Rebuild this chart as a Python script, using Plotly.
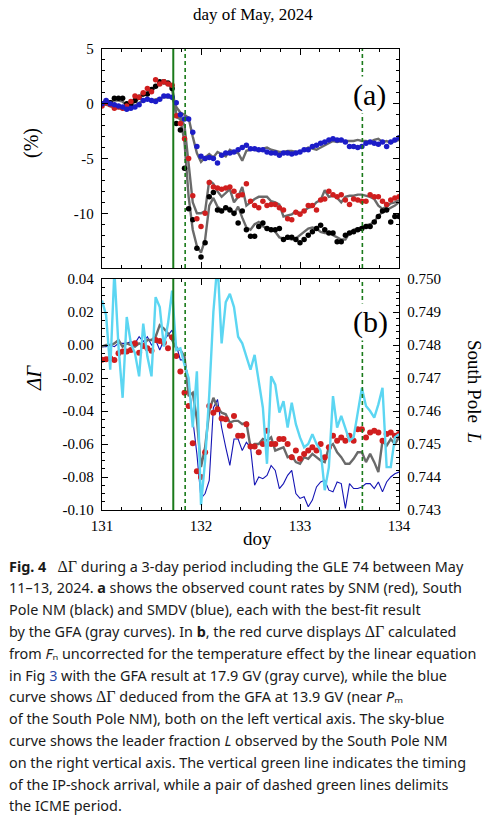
import plotly.graph_objects as go

# ---------------- data ----------------
hours = list(range(73))                       # hourly samples, 11 May 00 UT .. 14 May 00 UT
doy = [131 + h / 24 for h in hours]

# (a) count-rate variations (%)
snm = [-0.2, 0.1, -0.1, -0.4, -0.3, -0.4, -0.2, 0.2, 0.7, 0.6, 1.0, 1.4, 1.1, 2.2, 1.8, 2.0, 1.8, 1.7,
       -1.1, -1.8, -3.2, -5.0, -8.4, -10.5, -11.2, -10.0, -7.2, -7.6, -7.7, -7.8, -7.7, -7.6, -8.0, -8.4,
       -8.3, -7.3, -8.9, -9.3, -9.5, -8.9, -9.3, -9.2, -9.2, -9.5, -9.7, -10.5, -10.6, -9.9, -10.1, -9.8,
       -9.3, -9.3, -9.7, -8.8, -8.7, -8.0, -8.3, -8.5, -8.3, -8.8, -9.2, -8.7, -8.8, -8.9, -8.9, -8.3,
       -8.5, -8.5, -8.9, -9.2, -8.8, -8.6, -8.5]
south_pole = [0.0, 0.2, 0.1, 0.5, 0.5, 0.5, 0.0, -0.1, 0.3, 0.6, 0.9, 0.9, 1.3, 1.6, 2.0, 2.0, 1.9, 1.4,
              -1.8, -2.4, -5.9, -9.6, -10.6, -13.2, -14.0, -12.7, -8.5, -8.1, -9.7, -9.8, -9.5, -9.7, -10.0,
              -10.9, -9.8, -11.5, -12.1, -12.1, -11.2, -10.9, -11.4, -11.5, -11.5, -11.4, -12.4, -12.2, -12.2,
              -12.4, -12.7, -12.4, -12.0, -11.7, -11.4, -11.1, -11.5, -11.8, -11.8, -12.6, -12.6, -12.0, -11.8,
              -11.7, -11.5, -11.4, -11.2, -11.2, -10.8, -10.3, -9.8, -9.7, -10.8, -10.3, -10.3]
smdv = [0.0, 0.3, 0.0, -0.1, -0.2, -0.3, -0.5, -0.4, -0.3, -0.1, 0.3, 0.4, 0.3, 0.2, 0.4, 0.7, 0.7, 0.6,
        0.1, -1.0, -1.4, -1.4, -2.6, -3.9, -4.8, -5.0, -4.9, -5.0, -5.4, -4.7, -4.5, -4.5, -4.4, -4.2, -4.0,
        -3.8, -4.1, -4.1, -4.2, -4.2, -4.4, -4.5, -4.5, -4.7, -4.5, -4.5, -4.6, -4.5, -4.4, -4.2, -4.2, -3.9,
        -3.8, -3.6, -3.5, -3.3, -3.2, -3.3, -3.3, -3.5, -3.9, -3.9, -4.0, -3.9, -3.6, -3.5, -3.6, -3.7, -3.5,
        -3.9, -3.5, -3.3, -3.1]
# GFA best fits (gray curves)
fit_snm = [0.0, -0.1, -0.2, -0.4, -0.4, -0.5, -0.3, 0.1, 0.4, 0.6, 0.8, 1.0, 1.3, 1.6, 1.9, 2.0, 1.8, 1.5,
           -0.9, -1.2, -2.0, -5.5, -9.0, -10.0, -10.0, -9.8, -7.0, -7.3, -8.0, -8.5, -8.1, -7.8, -9.0, -8.5,
           -7.6, -9.3, -9.0, -8.7, -8.5, -8.5, -8.5, -8.9, -9.0, -9.2, -10.3, -10.2, -10.1, -9.8, -10.0, -9.8,
           -9.5, -9.4, -9.0, -8.8, -7.9, -8.5, -8.4, -8.6, -9.0, -8.5, -8.4, -8.4, -8.3, -8.3, -8.4, -8.5,
           -8.7, -9.3, -9.6, -9.4, -9.1, -9.0, -8.8]
fit_sp = [0.0, 0.1, 0.2, 0.3, 0.3, 0.2, -0.2, -0.1, 0.2, 0.5, 0.8, 0.9, 1.2, 1.5, 1.9, 1.9, 1.8, 1.4,
          -1.2, -1.4, -3.5, -8.5, -11.5, -13.0, -13.6, -12.4, -9.3, -8.6, -9.4, -9.7, -9.6, -9.5, -10.1, -9.4,
          -10.4, -11.3, -11.5, -11.0, -10.8, -11.2, -11.4, -11.4, -11.7, -12.2, -12.3, -12.3, -12.4, -12.3,
          -12.0, -11.7, -11.4, -11.3, -11.4, -11.7, -11.8, -11.8, -12.0, -12.2, -12.4, -12.4, -11.8, -11.5,
          -11.4, -11.3, -11.1, -11.0, -10.8, -10.2, -9.9, -9.7, -9.5, -9.3, -9.0]
fit_smdv = [0.0, 0.1, 0.0, -0.2, -0.3, -0.5, -0.6, -0.4, -0.2, 0.1, 0.3, 0.4, 0.3, 0.4, 0.5, 0.6, 0.6, 0.5,
            -0.3, -0.8, -1.0, -1.3, -3.0, -4.5, -5.3, -4.9, -4.6, -4.9, -4.4, -4.6, -4.8, -4.2, -4.4, -4.5,
            -5.2, -4.3, -4.2, -4.2, -4.3, -4.1, -4.0, -4.2, -4.3, -4.4, -4.4, -4.3, -4.3, -4.4, -4.4, -4.2,
            -4.0, -4.1, -4.2, -4.0, -3.8, -3.6, -3.4, -3.5, -3.4, -3.4, -3.4, -3.4, -3.3, -3.4, -3.4, -3.5,
            -3.3, -3.2, -3.5, -3.4, -3.6, -3.4, -3.3]

# (b) Delta Gamma (left axis) and leader fraction L (right axis)
dg_snm = [-0.009, -0.0087, -0.0081, -0.0091, -0.005, -0.004, -0.004, -0.003, 0.001, -0.0047, -0.0006, -0.002,
          -0.0035, 0.003, 0.0024, 0.0014, -0.002, 0.0047, -0.0067, -0.016, -0.029, -0.037, -0.0595, -0.0765,
          -0.080, -0.065, -0.037, -0.041, -0.039, -0.0445, -0.045, -0.049, -0.043, -0.055, -0.055, -0.048,
          -0.0615, -0.0615, -0.065, -0.060, -0.052, -0.060, -0.060, -0.057, -0.057, -0.060, -0.068, -0.064,
          -0.069, -0.066, -0.064, -0.062, -0.064, -0.060, -0.068, -0.062, -0.055, -0.058, -0.056, -0.058,
          -0.055, -0.058, -0.051, -0.051, -0.056, -0.053, -0.052, -0.053, -0.058, -0.054, -0.053, -0.055, -0.054]
dg_gfa179 = [-0.001, 0.0, 0.0, 0.001, 0.003, -0.001, 0.001, 0.0, -0.001, 0.001, 0.0, 0.003, 0.003, 0.005,
             0.012, 0.010, 0.007, 0.003, -0.002, -0.003, -0.007, -0.031, -0.029, -0.045, -0.074, -0.062,
             -0.040, -0.032, -0.038, -0.041, -0.042, -0.047, -0.046, -0.046, -0.048, -0.047, -0.062, -0.060,
             -0.060, -0.057, -0.058, -0.056, -0.064, -0.063, -0.062, -0.068, -0.067, -0.071, -0.072, -0.068,
             -0.069, -0.066, -0.068, -0.070, -0.071, -0.062, -0.060, -0.065, -0.068, -0.072, -0.072, -0.069,
             -0.065, -0.065, -0.071, -0.066, -0.071, -0.077, -0.058, -0.061, -0.057, -0.060, -0.056]
dg_gfa139 = [-0.001, -0.001, 0.0, -0.001, 0.001, 0.001, 0.001, 0.002, 0.001, 0.005, 0.002, 0.005, 0.0, 0.003,
             -0.003, 0.003, 0.006, 0.009, 0.0, -0.009, -0.009, -0.021, -0.045, -0.066, -0.093, -0.090, -0.082,
             -0.038, -0.033, -0.050, -0.062, -0.073, -0.057, -0.057, -0.064, -0.059, -0.062, -0.085, -0.080,
             -0.081, -0.079, -0.073, -0.076, -0.087, -0.084, -0.079, -0.076, -0.090, -0.093, -0.092, -0.098,
             -0.094, -0.086, -0.083, -0.082, -0.088, -0.089, -0.083, -0.084, -0.099, -0.084, -0.087, -0.087,
             -0.086, -0.084, -0.084, -0.087, -0.083, -0.089, -0.083, -0.080, -0.078, -0.077]
leader_L = [0.74935, 0.74890, 0.74725, 0.75025, 0.74795, 0.74640, 0.74885, 0.74805, 0.74775, 0.74705,
            0.74865, 0.74765, 0.74705, 0.74945, 0.74915, 0.74795, 0.74865, 0.74965, 0.74785, 0.74790,
            0.74740, 0.74700, 0.74550, 0.74720, 0.74315, 0.74450, 0.74650, 0.74900, 0.75050, 0.74805,
            0.74930, 0.74955, 0.74915, 0.74825, 0.74805, 0.74765, 0.74725, 0.74770, 0.74685, 0.74610,
            0.74440, 0.74705, 0.74680, 0.74595, 0.74630, 0.74550, 0.74625, 0.74560, 0.74520, 0.74490,
            0.74500, 0.74530, 0.74500, 0.74480, 0.74360, 0.74430, 0.74645, 0.74550, 0.74585, 0.74550,
            0.74510, 0.74520, 0.74590, 0.74670, 0.74615, 0.74600, 0.74580, 0.74620, 0.74670, 0.74430,
            0.74430, 0.74520, 0.74530]

shock_doy = 131.72
icme_doy = [131.84, 133.63]

x_ticks = [131, 132, 133, 134]
ya_ticks = [5, 0, -5, -10]
ya_text = ["5", "0", "-5", "-10"]
yb_ticks = [0.04, 0.02, 0.0, -0.02, -0.04, -0.06, -0.08, -0.10]
yb_text = ["0.04", "0.02", "0.00", "-0.02", "-0.04", "-0.06", "-0.08", "-0.10"]
yr_ticks = [0.750, 0.749, 0.748, 0.747, 0.746, 0.745, 0.744, 0.743]
yr_text = ["0.750", "0.749", "0.748", "0.747", "0.746", "0.745", "0.744", "0.743"]

DG = "<span style='font-family:Liberation Serif;font-size:16px'>ΔΓ</span>"
caption = [
    "<b>Fig. 4</b>   " + DG + " during a 3-day period including the GLE 74 between May",
    "11–13, 2024. <b>a</b> shows the observed count rates by SNM (red), South",
    "Pole NM (black) and SMDV (blue), each with the best-fit result",
    "by the GFA (gray curves). In <b>b</b>, the red curve displays " + DG + " calculated",
    "from <i>F</i>ₙ uncorrected for the temperature effect by the linear equation",
    "in Fig <span style='color:#2a4aa8;font-size:14.4px'>3</span> with the GFA result at 17.9 GV (gray curve), while the blue",
    "curve shows " + DG + " deduced from the GFA at 13.9 GV (near <i>P</i>ₘ",
    "of the South Pole NM), both on the left vertical axis. The sky-blue",
    "curve shows the leader fraction <i>L</i> observed by the South Pole NM",
    "on the right vertical axis. The vertical green line indicates the timing",
    "of the IP-shock arrival, while a pair of dashed green lines delimits",
    "the ICME period.",
]

# ---------------- styling ----------------
W, H = 489, 820
L_M, R_M, T_M, B_M = 102, 90, 49, 310
PW, PH = W - L_M - R_M, H - T_M - B_M


def px(xp):
    return (xp - L_M) / PW


def py(yp):
    return (H - B_M - yp) / PH


serif = "Liberation Serif, Times New Roman, serif"
GRAY = "#6a6a6a"
RED = "#d01e1e"
BLACK = "#000000"
BLUE = "#1c1cc8"
NAVY = "#1414b4"
CYAN = "#5cd6f2"
GREEN = "#1a7a1a"

fig = go.Figure()

# panel (a)
for fit in (fit_smdv, fit_snm, fit_sp):
    fig.add_trace(go.Scatter(x=doy, y=fit, mode="lines", line=dict(color=GRAY, width=2.4),
                             xaxis="x", yaxis="y", showlegend=False))
for ser, col in ((south_pole, BLACK), (snm, RED), (smdv, BLUE)):
    fig.add_trace(go.Scatter(x=doy, y=ser, mode="markers", marker=dict(color=col, size=5.5),
                             xaxis="x", yaxis="y", showlegend=False, cliponaxis=True))

# panel (b)
fig.add_trace(go.Scatter(x=doy, y=leader_L, mode="lines", line=dict(color=CYAN, width=2.4),
                         xaxis="x2", yaxis="y3", showlegend=False))
fig.add_trace(go.Scatter(x=doy, y=dg_gfa139, mode="lines", line=dict(color=NAVY, width=1.1),
                         xaxis="x2", yaxis="y2", showlegend=False))
fig.add_trace(go.Scatter(x=doy, y=dg_gfa179, mode="lines", line=dict(color=GRAY, width=2.4),
                         xaxis="x2", yaxis="y2", showlegend=False))
fig.add_trace(go.Scatter(x=doy, y=dg_snm, mode="markers", marker=dict(color=RED, size=6),
                         xaxis="x2", yaxis="y2", showlegend=False, cliponaxis=True))

# event lines in both panels
shapes = []
for xr, yr in (("x", "y domain"), ("x2", "y2 domain")):
    shapes.append(dict(type="line", xref=xr, yref=yr, x0=shock_doy, x1=shock_doy, y0=0, y1=1,
                       line=dict(color=GREEN, width=2)))
    for d in icme_doy:
        shapes.append(dict(type="line", xref=xr, yref=yr, x0=d, x1=d, y0=0, y1=1,
                           line=dict(color=GREEN, width=1.6, dash="4px,3px")))

tickfont = dict(family=serif, size=15, color="black")
common_x = dict(range=[131, 134], ticks="inside", ticklen=6, tickwidth=1, tickcolor="black",
                showline=True, linecolor="black", linewidth=1.3, mirror="ticks", showgrid=False,
                zeroline=False, tickvals=x_ticks, tickfont=tickfont,
                minor=dict(dtick=0.2, ticks="inside", ticklen=3, tickcolor="black", showgrid=False))

fig.update_layout(
    width=W, height=H, margin=dict(l=L_M, r=R_M, t=T_M, b=B_M),
    font=dict(family=serif, size=15, color="black"),
    paper_bgcolor="white", plot_bgcolor="white", shapes=shapes,
    xaxis=dict(common_x, domain=[0, 1], anchor="y", showticklabels=False),
    yaxis=dict(domain=[py(268), 1], anchor="x", range=[-15, 5], tickvals=ya_ticks, ticktext=ya_text,
               ticks="inside", ticklen=6, tickcolor="black", showline=True, linecolor="black",
               linewidth=1.3, mirror="ticks", showgrid=False, zeroline=False, tickfont=tickfont,
               ticklabelstandoff=4,
               minor=dict(dtick=1, ticks="inside", ticklen=3, tickcolor="black", showgrid=False)),
    xaxis2=dict(common_x, domain=[0, 1], anchor="y2", ticktext=[str(v) for v in x_ticks],
                ticklabelstandoff=2),
    yaxis2=dict(domain=[0, py(279)], anchor="x2", range=[-0.10, 0.04], tickvals=yb_ticks,
                ticktext=yb_text, ticks="inside", ticklen=6, tickcolor="black", showline=True,
                linecolor="black", linewidth=1.3, mirror=False, showgrid=False, zeroline=False,
                tickfont=tickfont, ticklabelstandoff=4,
                minor=dict(dtick=0.005, ticks="inside", ticklen=3, tickcolor="black", showgrid=False)),
    yaxis3=dict(overlaying="y2", anchor="x2", side="right", range=[0.743, 0.750], tickvals=yr_ticks,
                ticktext=yr_text, ticks="inside", ticklen=6, tickcolor="black", showline=True,
                linecolor="black", linewidth=1.3, showgrid=False, zeroline=False, tickfont=tickfont,
                ticklabelstandoff=4,
                minor=dict(dtick=0.0002, ticks="inside", ticklen=3, tickcolor="black", showgrid=False)),
)

ann = [
    dict(text="day of May, 2024", x=px(253), y=py(15), font=dict(family=serif, size=17)),
    dict(text="(a)", x=px(369), y=py(95), font=dict(family=serif, size=30), bgcolor="white"),
    dict(text="(b)", x=px(370), y=py(322), font=dict(family=serif, size=30), bgcolor="white"),
    dict(text="(%)", x=px(31), y=py(143), textangle=-90, font=dict(family=serif, size=20)),
    dict(text="<i>ΔΓ</i>", x=px(34), y=py(378), textangle=-90, font=dict(family=serif, size=21)),
    dict(text="South Pole  <i>L</i>", x=px(474), y=py(391), textangle=90, font=dict(family=serif, size=19)),
    dict(text="doy", x=px(257), y=py(538), font=dict(family=serif, size=19)),
]
for a in ann:
    a.update(xref="paper", yref="paper", showarrow=False, xanchor="center", yanchor="middle")
    a["font"]["color"] = "black"
    fig.add_annotation(**a)

for i, line in enumerate(caption):
    fig.add_annotation(text=line, x=px(7), y=py(566 + 21.8 * i), xref="paper", yref="paper",
                       showarrow=False, xanchor="left", yanchor="middle", align="left",
                       font=dict(family="Noto Sans", size=14.4, color="#1a1a1a"))

fig.write_html("out.html")
